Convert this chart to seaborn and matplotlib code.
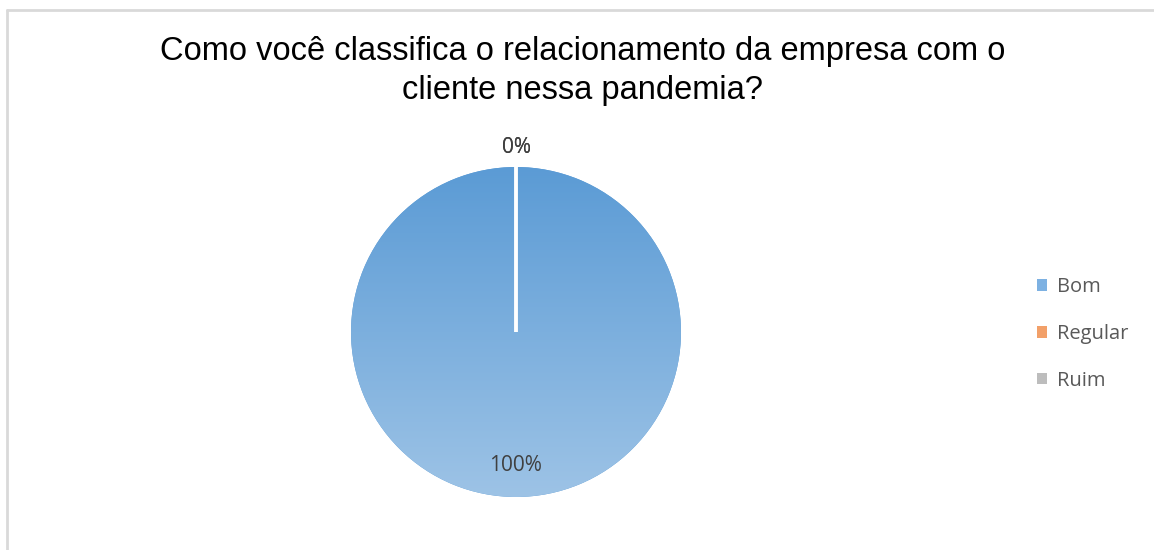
import numpy as np
import matplotlib
matplotlib.use("Agg")
import matplotlib.pyplot as plt
import seaborn as sns
from matplotlib.patches import Patch
from matplotlib.lines import Line2D
from matplotlib.colors import LinearSegmentedColormap

categories = ["Bom", "Regular", "Ruim"]
values = [100, 0, 0]
title = "Como você classifica o relacionamento da empresa com o\ncliente nessa pandemia?"

sns.set_theme(style="white")
plt.rcParams["font.family"] = ["Open Sans", "DejaVu Sans"]

palette = sns.color_palette(["#5B9BD5", "#ED7D31", "#A5A5A5"])
legend_palette = sns.color_palette(["#7DB1E2", "#F2A069", "#BDBDBD"])

W, H = 1154, 550
fig = plt.figure(figsize=(W / 100, H / 100), dpi=100)
fig.patch.set_facecolor("white")

# chart frame (top & left border like the Excel export)
fig.add_artist(Line2D([7 / W, 1], [1 - 10 / H, 1 - 10 / H], color="#D9D9D9", lw=2, transform=fig.transFigure))
fig.add_artist(Line2D([7 / W, 7 / W], [0, 1 - 10 / H], color="#D9D9D9", lw=2, transform=fig.transFigure))

cx, cy, rad, half = 516, 332, 165, 200
ax = fig.add_axes([(cx - half) / W, (H - cy - half) / H, 2 * half / W, 2 * half / H])

pct_d = 0.81
wedges, texts, autotexts = ax.pie(
    values, colors=palette, startangle=90, counterclock=False,
    autopct=lambda p: f"{p:.0f}%", pctdistance=pct_d,
    wedgeprops=dict(edgecolor="white", linewidth=2.5),
    textprops=dict(color="#404040", fontsize=15),
)
lim = half / rad
ax.set_xlim(-lim, lim)
ax.set_ylim(-lim, lim)
ax.set_axis_off()

# gradient fill on main wedge
cmap = LinearSegmentedColormap.from_list("g", ["#9DC3E6", "#5B9BD5"])
grad = np.linspace(0, 1, 256).reshape(-1, 1)
im = ax.imshow(grad, cmap=cmap, extent=(-1, 1, -1, 1), origin="lower", aspect="auto", zorder=1.5)
im.set_clip_path(wedges[0])
ax.set_xlim(-lim, lim)
ax.set_ylim(-lim, lim)
wedges[0].set_edgecolor("none")
for w in wedges[1:]:
    w.set_zorder(3)
for t, v in zip(autotexts, values):
    t.set_zorder(4)
    if v == 0:
        x, y = t.get_position()
        t.set_position((x * 1.12 / pct_d, y * 1.12 / pct_d))

fig.text(583 / W, 1 - 71 / H, title, ha="center", va="center", fontsize=23.5,
         family=["Liberation Sans", "DejaVu Sans"], color="black", linespacing=1.3)

handles = [Patch(facecolor=c, edgecolor="none") for c in legend_palette]
fig.legend(handles, categories, loc="center left", bbox_to_anchor=(1019 / W, 1 - 334 / H),
           frameon=False, fontsize=14.5, handlelength=0.5, handleheight=0.5,
           handletextpad=0.5, labelspacing=1.33, labelcolor="#595959")

fig.savefig("out.png", dpi=100, facecolor="white")
